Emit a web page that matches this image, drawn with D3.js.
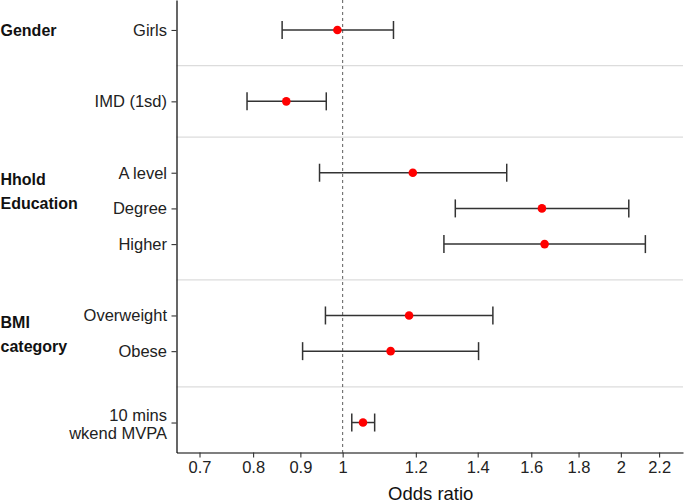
<!DOCTYPE html>
<html>
<head>
<meta charset="utf-8">
<script src="https://cdn.jsdelivr.net/npm/d3@7"></script>
<style>
  body { margin: 0; background: #fff; }
  svg text { font-family: "Liberation Sans", Arial, sans-serif; }
</style>
</head>
<body>
<svg id="chart" width="685" height="503"></svg>
<script>
'use strict';

// rows (slot index on y, top to bottom); blank slots hold the group separators
const labels = ["Girls", "IMD (1sd)", "A level", "Degree", "Higher", "Overweight", "Obese", "10 mins\nwkend MVPA"];
const slots = [0, 2, 4, 5, 6, 8, 9, 11];
const estimate = [0.987, 0.869, 1.191, 1.643, 1.654, 1.180, 1.127, 1.052];
const lower = [0.860, 0.788, 0.944, 1.324, 1.287, 0.958, 0.905, 1.023];
const upper = [1.135, 0.960, 1.505, 2.040, 2.126, 1.454, 1.403, 1.083];
const separators = [1, 3, 7, 10];
const groups = [
  { lines: ["Gender"], slot: 0 },
  { lines: ["Hhold", "Education"], slot: 4.5 },
  { lines: ["BMI", "category"], slot: 8.5 }
];
const xTicks = [0.7, 0.8, 0.9, 1, 1.2, 1.4, 1.6, 1.8, 2, 2.2];

const svg = d3.select("#chart");
const margin = { left: 176.5, right: 2, top: 0, bottom: 50.5 };
const width = 685, height = 503;

const x = d3.scaleLog().domain([0.661, 2.335]).range([margin.left, width - margin.right]);
const y = d3.scaleLinear().domain([-0.84, 11.84]).range([margin.top, height - margin.bottom]);

// separator lines
svg.append("g").selectAll("line")
  .data(separators)
  .join("line")
  .attr("x1", margin.left).attr("x2", width - margin.right)
  .attr("y1", d => y(d)).attr("y2", d => y(d))
  .attr("stroke", "#dcdcdc").attr("stroke-width", 1.3);

// reference line at 1
svg.append("line")
  .attr("x1", x(1)).attr("x2", x(1))
  .attr("y1", margin.top).attr("y2", height - margin.bottom)
  .attr("stroke", "#333").attr("stroke-width", 0.8)
  .attr("stroke-dasharray", "3,3");

// x axis
const xAxis = svg.append("g")
  .attr("transform", `translate(0,${height - margin.bottom})`)
  .call(d3.axisBottom(x).tickValues(xTicks).tickFormat(d3.format("")).tickSizeInner(5).tickSizeOuter(0).tickPadding(4));
xAxis.select(".domain").attr("stroke", "#000").attr("stroke-width", 1.2);
xAxis.selectAll(".tick line").attr("stroke", "#333").attr("stroke-width", 1.1);
xAxis.selectAll(".tick text").attr("font-size", 16.5).attr("fill", "#222");

svg.append("text")
  .attr("x", (margin.left + width - margin.right) / 2 + 1)
  .attr("y", 500)
  .attr("text-anchor", "middle")
  .attr("font-size", 18.5)
  .attr("fill", "#111")
  .text("Odds ratio");

// y axis
const yAxis = svg.append("g")
  .attr("transform", `translate(${margin.left},0)`)
  .call(d3.axisLeft(y).tickValues(slots).tickFormat("").tickSizeInner(5).tickSizeOuter(0));
yAxis.select(".domain").attr("stroke", "#000").attr("stroke-width", 1.2);
yAxis.selectAll(".tick line").attr("stroke", "#333").attr("stroke-width", 1.1);

svg.append("g").selectAll("text")
  .data(labels)
  .join("text")
  .attr("text-anchor", "end")
  .attr("font-size", 16.5)
  .attr("fill", "#222")
  .attr("transform", (d, i) => `translate(167,${y(slots[i])})`)
  .each(function(d) {
    const parts = d.split("\n");
    const t = d3.select(this);
    parts.forEach((p, j) => {
      t.append("tspan")
        .attr("x", 0)
        .attr("y", parts.length > 1 ? j * 18 - 2 : 6)
        .text(p);
    });
  });

// group labels
svg.append("g").selectAll("text")
  .data(groups)
  .join("text")
  .attr("font-size", 16)
  .attr("font-weight", "bold")
  .attr("fill", "#111")
  .attr("transform", d => `translate(0.5,${y(d.slot)})`)
  .each(function(d) {
    const t = d3.select(this);
    d.lines.forEach((p, j) => {
      t.append("tspan")
        .attr("x", 0)
        .attr("y", (j - (d.lines.length - 1) / 2) * 24 + 6.5)
        .text(p);
    });
  });

// error bars
const bars = svg.append("g").attr("stroke", "#333").attr("stroke-width", 1.5);
bars.selectAll("line.h")
  .data(estimate)
  .join("line")
  .attr("class", "h")
  .attr("x1", (d, i) => x(lower[i])).attr("x2", (d, i) => x(upper[i]))
  .attr("y1", (d, i) => y(slots[i])).attr("y2", (d, i) => y(slots[i]));
for (const arr of [lower, upper]) {
  bars.append("g").selectAll("line")
    .data(arr)
    .join("line")
    .attr("x1", d => x(d)).attr("x2", d => x(d))
    .attr("y1", (d, i) => y(slots[i]) - 9).attr("y2", (d, i) => y(slots[i]) + 9);
}

// points
svg.append("g").selectAll("circle")
  .data(estimate)
  .join("circle")
  .attr("cx", d => x(d))
  .attr("cy", (d, i) => y(slots[i]))
  .attr("r", 4.3)
  .attr("fill", "#ff0000");
</script>
</body>
</html>
